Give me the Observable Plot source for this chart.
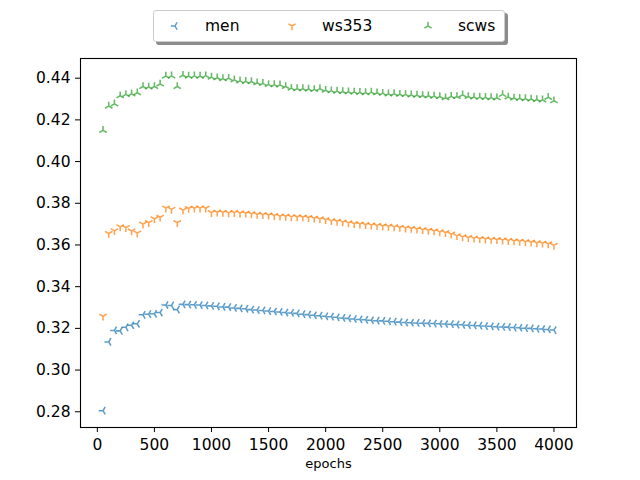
<!DOCTYPE html>
<html>
<head>
<meta charset="utf-8">
<script src="https://cdn.jsdelivr.net/npm/d3@7"></script>
<script src="https://cdn.jsdelivr.net/npm/@observablehq/plot@0.6"></script>
<style>
  html, body { margin: 0; padding: 0; background: #fff; }
  body { width: 640px; height: 480px; position: relative; font-family: "DejaVu Sans", sans-serif; }
  #legend {
    position: absolute; left: 153px; top: 10px; width: 350px; height: 30px;
    border: 1px solid #cccccc; border-radius: 3px; background: #fff;
    box-shadow: 3px 3px 0 rgba(0,0,0,0.45);
    font-size: 15.5px; color: #000;
  }
  #legend .item { position: absolute; top: 0; height: 30px; line-height: 30px; }
  #legend svg { position: absolute; }
</style>
</head>
<body>
<div id="chart"></div>
<div id="legend"></div>
<script>
const epochs = [50,100,150,200,250,300,350,400,450,500,550,600,650,700,750,800,850,900,950,1000,
  1050,1100,1150,1200,1250,1300,1350,1400,1450,1500,1550,1600,1650,1700,1750,1800,1850,1900,1950,2000,
  2050,2100,2150,2200,2250,2300,2350,2400,2450,2500,2550,2600,2650,2700,2750,2800,2850,2900,2950,3000,
  3050,3100,3150,3200,3250,3300,3350,3400,3450,3500,3550,3600,3650,3700,3750,3800,3850,3900,3950,4000];

const men = [0.2805,0.3135,0.3190,0.3188,0.3205,0.3215,0.3222,0.3265,0.3268,0.3270,
  0.3276,0.3312,0.3310,0.3290,0.3315,0.3314,0.3313,0.3312,0.3310,0.3308,
  0.3306,0.3303,0.3302,0.3298,0.3296,0.3294,0.3290,0.3288,0.3286,0.3283,
  0.3281,0.3279,0.3276,0.3274,0.3272,0.3268,0.3266,0.3263,0.3261,0.3258,
  0.3256,0.3253,0.3250,0.3248,0.3245,0.3243,0.3241,0.3239,0.3237,0.3236,
  0.3234,0.3232,0.3230,0.3228,0.3227,0.3226,0.3225,0.3224,0.3223,0.3222,
  0.3221,0.3220,0.3218,0.3217,0.3215,0.3214,0.3213,0.3211,0.3210,0.3208,
  0.3207,0.3206,0.3204,0.3203,0.3201,0.3200,0.3198,0.3197,0.3195,0.3192];

const ws353 = [0.3258,0.3655,0.3668,0.3687,0.3683,0.3667,0.3657,0.3700,0.3707,0.3725,
  0.3733,0.3777,0.3771,0.3707,0.3767,0.3775,0.3776,0.3777,0.3776,0.3755,
  0.3757,0.3756,0.3754,0.3755,0.3753,0.3752,0.3749,0.3746,0.3745,0.3743,
  0.3741,0.3738,0.3737,0.3735,0.3734,0.3733,0.3731,0.3728,0.3725,0.3721,
  0.3716,0.3713,0.3710,0.3706,0.3702,0.3700,0.3697,0.3695,0.3693,0.3691,
  0.3689,0.3687,0.3684,0.3681,0.3679,0.3676,0.3673,0.3670,0.3667,0.3663,
  0.3659,0.3652,0.3644,0.3639,0.3635,0.3632,0.3630,0.3628,0.3626,0.3625,
  0.3623,0.3621,0.3619,0.3617,0.3615,0.3613,0.3610,0.3608,0.3605,0.3598];

const scws = [0.4150,0.4266,0.4277,0.4316,0.4322,0.4325,0.4330,0.4360,0.4358,0.4360,
  0.4372,0.4410,0.4411,0.4360,0.4414,0.4410,0.4411,0.4410,0.4412,0.4405,
  0.4402,0.4398,0.4400,0.4392,0.4387,0.4385,0.4384,0.4378,0.4375,0.4370,
  0.4369,0.4368,0.4360,0.4352,0.4350,0.4350,0.4348,0.4346,0.4350,0.4342,
  0.4340,0.4338,0.4336,0.4335,0.4334,0.4332,0.4331,0.4333,0.4330,0.4328,
  0.4325,0.4326,0.4323,0.4322,0.4320,0.4319,0.4317,0.4316,0.4314,0.4312,
  0.4306,0.4313,0.4312,0.4320,0.4312,0.4310,0.4309,0.4308,0.4307,0.4306,
  0.4322,0.4310,0.4305,0.4304,0.4302,0.4300,0.4298,0.4296,0.4308,0.4292];

const seriesNames = ["men", "ws353", "scws"];
const seriesColors = ["#1f77b4", "#ff7f0e", "#2ca02c"];
const xTicks = [0,500,1000,1500,2000,2500,3000,3500,4000];
const yTicks = [0.28,0.30,0.32,0.34,0.36,0.38,0.40,0.42,0.44];
const xLabel = "epochs";

// matplotlib-like tri markers
function tri(dirs) {
  return {
    draw(ctx, size) {
      const r = Math.sqrt(size / Math.PI);
      for (const [dx, dy] of dirs) { ctx.moveTo(0, 0); ctx.lineTo(dx * r, dy * r); }
    }
  };
}
const s = Math.sqrt(3) / 2;
const triLeft = tri([[-1, 0], [0.5, -s], [0.5, s]]);
const triDown = tri([[0, 1], [-s, -0.5], [s, -0.5]]);
const triUp = tri([[0, -1], [-s, 0.5], [s, 0.5]]);
const symbols = [triLeft, triDown, triUp];
const seriesValues = [men, ws353, scws];

const tables = seriesValues.map(vals => epochs.map((e, i) => ({epoch: e, value: vals[i]})));

const allVals = seriesValues.flat();
const [ymin, ymax] = d3.extent(allVals);
const [xmin, xmax] = d3.extent(epochs);
const ypad = (ymax - ymin) * 0.05, xpad = (xmax - xmin) * 0.05;

const plot = Plot.plot({
  width: 640,
  height: 480,
  marginLeft: 80,
  marginRight: 64,
  marginTop: 58,
  marginBottom: 53,
  style: {fontFamily: "DejaVu Sans, sans-serif", fontSize: "15.5px", color: "#000", background: "#fff"},
  x: {domain: [xmin - xpad, xmax + xpad]},
  y: {domain: [ymin - ypad, ymax + ypad]},
  marks: [
    ...tables.map((t, k) => Plot.dot(t, {
      x: "epoch", y: "value", symbol: symbols[k], r: 4.3,
      stroke: seriesColors[k], strokeOpacity: 0.72, strokeWidth: 1.55, fill: "none"
    })),
    Plot.frame({stroke: "#000", strokeWidth: 1.1}),
    Plot.axisX({ticks: xTicks, tickFormat: d => String(d), tickSize: 5, tickPadding: 6, label: null}),
    Plot.axisY({ticks: yTicks, tickFormat: d3.format(".2f"), tickSize: 5, tickPadding: 5, label: null}),
    Plot.text([xLabel], {frameAnchor: "bottom", dy: 40, fontSize: 13, fill: "#000"})
  ]
});
document.getElementById("chart").appendChild(plot);

// legend
const legend = document.getElementById("legend");
const itemMarkerX = [21, 138, 274];
const itemTextX = [51, 168, 304];
const paths = [
  "M0,0L-4.2,0M0,0L2.1,-3.64M0,0L2.1,3.64",
  "M0,0L0,4.2M0,0L-3.64,-2.1M0,0L3.64,-2.1",
  "M0,0L0,-4.2M0,0L-3.64,2.1M0,0L3.64,2.1"
];
seriesNames.forEach((name, k) => {
  const svg = d3.create("svg").attr("width", 12).attr("height", 12)
    .style("left", (itemMarkerX[k] - 6) + "px").style("top", (15 - 6) + "px");
  svg.append("path").attr("transform", "translate(6,6)").attr("d", paths[k])
    .attr("stroke", seriesColors[k]).attr("stroke-opacity", 0.72).attr("stroke-width", 1.5).attr("fill", "none");
  legend.appendChild(svg.node());
  const span = document.createElement("span");
  span.className = "item";
  span.style.left = itemTextX[k] + "px";
  span.textContent = name;
  legend.appendChild(span);
});
</script>
</body>
</html>
